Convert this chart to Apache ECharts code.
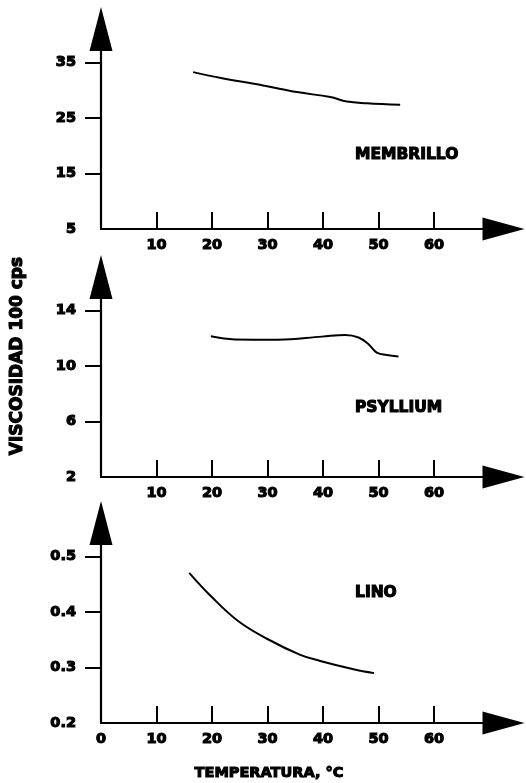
<!DOCTYPE html>
<html>
<head>
<meta charset="utf-8">
<script src="https://cdn.jsdelivr.net/npm/echarts@6/dist/echarts.min.js"></script>
<style>
  html, body { margin: 0; padding: 0; background: #ffffff; }
  #chart { width: 526px; height: 783px; }
</style>
</head>
<body>
<div id="chart"></div>
<script>
// Viscosidad de tres mucílagos frente a la temperatura
const membrilloTemp = [16.6, 21.4, 29.2, 35.3, 41.3, 44.3, 47.9, 53.9];
const membrilloVisc = [33.3, 32.3, 30.9, 29.7, 28.8, 28.0, 27.7, 27.4];

const psylliumTemp = [19.8, 24.1, 31.9, 39.8, 44.0, 46.4, 48.2, 49.7, 51.5, 53.6];
const psylliumVisc = [12.15, 11.93, 11.91, 12.13, 12.25, 12.07, 11.58, 10.98, 10.80, 10.69];

const linoTemp = [15.9, 19.6, 24.7, 29.9, 35.9, 39.5, 45.5, 49.2];
const linoVisc = [0.471, 0.431, 0.384, 0.352, 0.323, 0.312, 0.297, 0.290];

// Marcas de los ejes
const tempTicks = [10, 20, 30, 40, 50, 60];
const tempLabels = [10, 20, 30, 40, 50, 60];
const tempLabelsWithZero = [0, 10, 20, 30, 40, 50, 60];
const membrilloLabels = [5, 15, 25, 35];
const psylliumLabels = [2, 6, 10, 14];
const linoLabels = [0.2, 0.3, 0.4, 0.5];

const panelNames = ['MEMBRILLO', 'PSYLLIUM', 'LINO'];
const yTitle = 'VISCOSIDAD 100 cps';
const xTitle = 'TEMPERATURA, °C';

const FONT = '"DejaVu Sans", "Liberation Sans", sans-serif';
const INK = '#000000';
const HEAVY = 1.1; // outline that thickens the bold lettering

function zip(xs, ys) { return xs.map((x, i) => [x, ys[i]]); }

const boldText = {
  color: INK,
  fontFamily: FONT,
  fontWeight: 'bold',
  textBorderColor: INK,
  textBorderWidth: HEAVY
};

// Three stacked panels share the same geometry
const panels = [
  { top: 35,  yMin: 5,   yMax: 40,   labels: membrilloLabels, xLabels: tempLabels,         temp: membrilloTemp, visc: membrilloVisc, dec: 0 },
  { top: 283, yMin: 2,   yMax: 16,   labels: psylliumLabels,  xLabels: tempLabels,         temp: psylliumTemp,  visc: psylliumVisc,  dec: 0 },
  { top: 529, yMin: 0.2, yMax: 0.55, labels: linoLabels,      xLabels: tempLabelsWithZero, temp: linoTemp,      visc: linoVisc,      dec: 1 }
];

const grids = [], xAxes = [], yAxes = [], series = [];

panels.forEach((p, i) => {
  grids.push({ left: 101, top: p.top, width: 388.5, height: 194, containLabel: false });

  xAxes.push({
    type: 'value', gridIndex: i, min: 0, max: 70,
    axisLine: {
      show: true, onZero: false,
      symbol: ['none', 'triangle'], symbolSize: [23, 42], symbolOffset: [0, 14],
      lineStyle: { color: INK, width: 2.2 }
    },
    axisTick: { show: true, inside: true, length: 17, customValues: tempTicks, lineStyle: { color: INK, width: 2 } },
    axisLabel: Object.assign({ fontSize: 14.5, margin: 9, customValues: p.xLabels }, boldText),
    splitLine: { show: false }
  });

  yAxes.push({
    type: 'value', gridIndex: i, min: p.yMin, max: p.yMax,
    axisLine: {
      show: true, onZero: false,
      symbol: ['none', 'triangle'], symbolSize: [23, 44], symbolOffset: [0, 6],
      lineStyle: { color: INK, width: 2.2 }
    },
    axisTick: { show: true, inside: false, length: 16, customValues: p.labels.slice(1), lineStyle: { color: INK, width: 2 } },
    axisLabel: Object.assign({
      fontSize: 14.5, margin: 25, customValues: p.labels,
      formatter: v => v.toFixed(p.dec)
    }, boldText),
    splitLine: { show: false }
  });

  series.push({
    type: 'line', xAxisIndex: i, yAxisIndex: i,
    data: zip(p.temp, p.visc),
    smooth: 0.4, showSymbol: false, symbol: 'none',
    lineStyle: { color: INK, width: 2 },
    silent: true
  });
});

function label(text, x, y, size, align, rotation) {
  return {
    type: 'text', x: x, y: y, rotation: rotation || 0,
    style: {
      text: text, fontSize: size, fontFamily: FONT, fontWeight: 'bold',
      align: align, verticalAlign: 'middle',
      fill: INK, stroke: INK, lineWidth: HEAVY
    }
  };
}

const namePos = [[355, 155], [355, 408], [355, 593]];
const graphics = panelNames.map((name, i) => label(name, namePos[i][0], namePos[i][1], 15.5, 'left'));
graphics.push(label(yTitle, 18, 356, 17, 'center', Math.PI / 2));
graphics.push(label(xTitle, 269, 773, 14.5, 'center'));

const chart = echarts.init(document.getElementById('chart'), null, { renderer: 'canvas' });
chart.setOption({
  backgroundColor: '#ffffff',
  animation: false,
  grid: grids,
  xAxis: xAxes,
  yAxis: yAxes,
  series: series,
  graphic: graphics
});
</script>
</body>
</html>
